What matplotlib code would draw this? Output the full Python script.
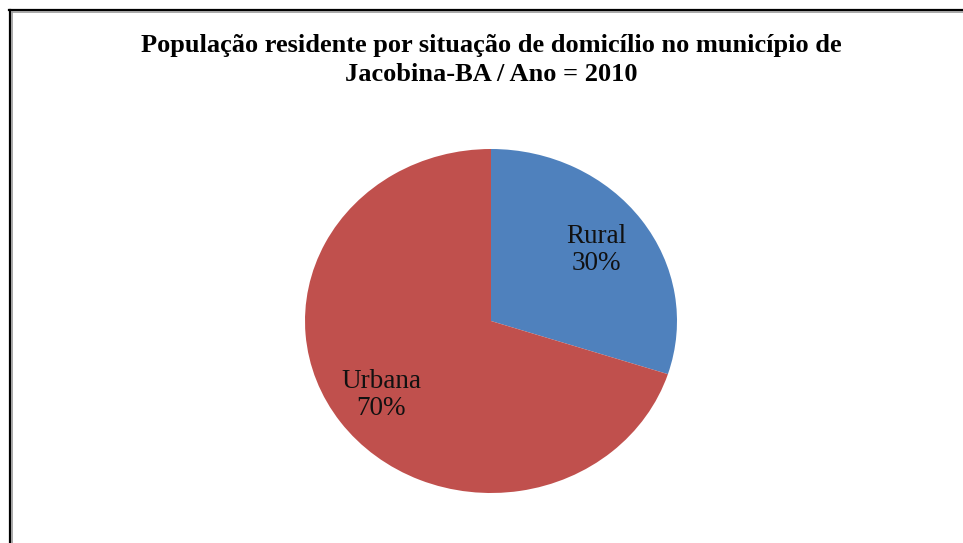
import matplotlib
matplotlib.use("Agg")
import matplotlib.pyplot as plt
from matplotlib.lines import Line2D
import numpy as np

categories = ["Rural", "Urbana"]
values = [30, 70]
colors = ["#4F81BD", "#C0504D"]
title = "População residente por situação de domicílio no município de\nJacobina-BA / Ano = 2010"

W, H = 963, 543
fig = plt.figure(figsize=(W / 100, H / 100), dpi=100)
fig.patch.set_facecolor("white")

# pie axes (slightly elliptical like the reference)
cx, cy, rx, ry = 491, 321, 186, 172
ax = fig.add_axes([(cx - rx) / W, (H - cy - ry) / H, 2 * rx / W, 2 * ry / H])
wedges, _ = ax.pie(values, colors=colors, startangle=90, counterclock=False,
                   radius=1.0, wedgeprops=dict(linewidth=0))
ax.set_aspect("auto")
ax.set_xlim(-1, 1)
ax.set_ylim(-1, 1)
ax.axis("off")

label_r = [0.70, 0.73]
for w, cat, v, r in zip(wedges, categories, values, label_r):
    ang = np.deg2rad((w.theta1 + w.theta2) / 2)
    ax.text(r * np.cos(ang), r * np.sin(ang), f"{cat}\n{v}%",
            ha="center", va="center", fontsize=19.5, family="Liberation Serif",
            color="#111111", linespacing=1.12)

fig.text(491 / W, 1 - 60 / H, title, ha="center", va="center",
         fontsize=19, fontweight="bold", family="Liberation Serif",
         linespacing=1.3)

# frame lines (left and top), as in reference
fig.add_artist(Line2D([9.5 / W, 9.5 / W], [0, 1 - 9.5 / H], color="black", lw=1.6,
                      transform=fig.transFigure))
fig.add_artist(Line2D([11.5 / W, 11.5 / W], [0, 1 - 11.5 / H], color="#999999", lw=1.2,
                      transform=fig.transFigure))
fig.add_artist(Line2D([8.5 / W, 1], [1 - 9.5 / H, 1 - 9.5 / H], color="black", lw=1.6,
                      transform=fig.transFigure))
fig.add_artist(Line2D([11.5 / W, 1], [1 - 11.5 / H, 1 - 11.5 / H], color="#999999", lw=1.2,
                      transform=fig.transFigure))

fig.savefig("out.png", dpi=100)
